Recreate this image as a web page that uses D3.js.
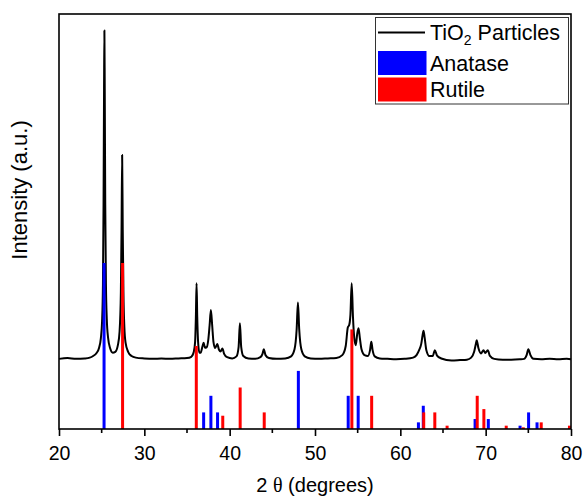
<!DOCTYPE html>
<html>
<head>
<meta charset="utf-8">
<script src="https://cdn.jsdelivr.net/npm/d3@7"></script>
<style>
    body { margin: 0; background: #fff; }
    text { font-family: "Liberation Sans", Arial, sans-serif; fill: #000; }
</style>
</head>
<body>
<svg id="svgXrd" width="584" height="497"></svg>
<script>
// measured TiO2 pattern, [2theta, intensity a.u.]
let tio2Pattern = [
    [20.0, 16.9], [21.0, 17.1], [22.0, 16.9], [23.0, 17.0], [23.6, 17.2], [24.0, 17.6], [24.4, 18.3],
    [24.7, 19.6], [24.9, 21.8], [25.05, 26], [25.15, 35], [25.22, 54], [25.28, 82], [25.32, 96],
    [25.36, 82], [25.42, 54], [25.5, 35], [25.6, 26.5], [25.75, 22], [26.0, 19.4], [26.3, 18.4],
    [26.6, 18.6], [26.9, 20.2], [27.1, 23.5], [27.25, 33], [27.33, 48], [27.4, 66], [27.47, 48],
    [27.55, 33], [27.66, 24.5], [27.8, 20.8], [28.1, 18.6], [28.5, 17.6], [29.0, 17.2], [30.0, 17.0],
    [31.0, 16.9], [32.0, 17.0], [33.0, 16.9], [34.0, 17.0], [35.0, 17.1], [35.5, 17.4], [35.8, 18.6],
    [35.95, 21], [36.04, 27], [36.12, 35.1], [36.2, 27], [36.3, 21], [36.45, 18.4], [36.6, 18.4],
    [36.8, 19.8], [36.95, 20.8], [37.1, 19.6], [37.3, 19.7], [37.5, 21.6], [37.65, 25], [37.8, 28.7],
    [37.95, 25], [38.1, 21], [38.3, 19.5], [38.55, 20.5], [38.75, 19.1], [38.95, 18.7], [39.15, 19.4],
    [39.35, 18.1], [39.7, 17.3], [40.3, 17.0], [40.8, 17.5], [41.05, 19.8], [41.2, 25.5], [41.35, 19.8],
    [41.6, 17.6], [42.2, 17.0], [43.0, 16.9], [43.6, 17.3], [43.85, 18.1], [44.0, 19.2], [44.2, 17.8],
    [44.6, 17.1], [45.5, 16.9], [46.5, 17.0], [47.2, 17.5], [47.6, 19.2], [47.85, 24], [48.0, 30.5],
    [48.15, 24], [48.4, 19.2], [48.8, 17.5], [49.5, 17.0], [50.5, 16.9], [51.5, 17.0], [52.5, 17.1],
    [53.2, 17.8], [53.6, 20], [53.85, 24.5], [54.0, 25], [54.15, 27.5], [54.3, 35.1], [54.45, 27],
    [54.6, 22], [54.78, 20.2], [54.95, 23], [55.1, 24.3], [55.25, 22], [55.45, 19.2], [55.8, 17.8],
    [56.2, 17.6], [56.45, 19], [56.6, 21.0], [56.75, 19], [57.0, 17.5], [57.6, 17.0], [58.5, 16.9],
    [59.5, 16.8], [60.5, 16.9], [61.5, 17.2], [61.9, 17.8], [62.2, 19], [62.45, 20.5], [62.6, 22.5],
    [62.72, 23.7], [62.85, 22], [63.05, 19], [63.4, 17.6], [63.8, 17.6], [64.05, 19.0], [64.3, 17.7],
    [64.8, 17.0], [66.0, 16.5], [67.0, 16.6], [67.8, 16.7], [68.3, 17.2], [68.65, 18.6], [68.85, 20.5],
    [68.95, 21.4], [69.15, 19.5], [69.45, 18.2], [69.75, 19.0], [69.95, 18.3], [70.25, 19.0], [70.5, 17.6],
    [71.0, 16.9], [72.0, 16.7], [73.0, 16.7], [74.0, 16.8], [74.5, 16.9], [74.8, 17.8], [75.0, 19.2],
    [75.25, 17.8], [75.6, 16.9], [76.5, 16.8], [77.5, 16.9], [78.5, 16.8], [79.5, 16.9], [80.0, 16.8]
];

// reference cards (relative intensity %)
let anataseTheta = [25.28, 36.95, 37.80, 38.58, 48.05, 53.89, 55.06, 62.12, 62.69, 68.76, 70.31, 74.03, 75.03, 76.02];
let anataseRel = [100, 10, 20, 10, 35, 20, 20, 4, 14, 6, 6, 2, 10, 4];
let rutileTheta = [27.45, 36.09, 39.19, 41.23, 44.05, 54.32, 56.64, 62.74, 64.04, 65.48, 69.01, 69.79, 72.41, 74.41, 76.51, 79.82];
let rutileRel = [100, 50, 8, 25, 10, 60, 20, 10, 10, 2, 20, 12, 2, 1, 4, 2];

let xTicks = [20, 30, 40, 50, 60, 70, 80];
let xMinorTicks = [25, 35, 45, 55, 65, 75];
let legendLabels = ['Anatase', 'Rutile'];
let legendColors = ['#0000ff', '#ff0000'];

function init() {
    let svg = d3.select('#svgXrd');
    let left = 59, right = 571, top = 14, bottom = 429;

    let x = d3.scaleLinear().domain([20, 80]).range([left, right]);
    let y = d3.scaleLinear().domain([0, 100]).range([bottom, top]);
    // 100% line of the cards reaches 40 on the intensity axis
    let stick = d3.scaleLinear().domain([0, 100]).range([0, 40]);

    // pattern
    svg.append('path')
        .datum(tio2Pattern)
        .attr('d', d3.line().x(d => x(d[0])).y(d => y(d[1])).curve(d3.curveMonotoneX))
        .attr('fill', 'none')
        .attr('stroke', 'black')
        .attr('stroke-width', 2)
        .attr('stroke-linejoin', 'round');

    // sticks, anatase first then rutile on top
    let cards = [
        {theta: anataseTheta, rel: anataseRel, color: legendColors[0]},
        {theta: rutileTheta, rel: rutileRel, color: legendColors[1]}
    ];
    cards.forEach(c => {
        svg.append('g').selectAll('rect').data(c.theta).join('rect')
            .attr('x', d => x(d) - 1.5)
            .attr('y', (d, i) => y(stick(c.rel[i])))
            .attr('width', 3)
            .attr('height', (d, i) => y(0) - y(stick(c.rel[i])))
            .style('fill', c.color);
    });

    // frame
    svg.append('rect')
        .attr('x', left)
        .attr('y', top)
        .attr('width', right - left)
        .attr('height', bottom - top)
        .attr('fill', 'none')
        .attr('stroke', 'black')
        .attr('stroke-width', 1.6);

    // x axis
    let xAxis = svg.append('g').attr('transform', `translate(0, ${bottom})`)
        .call(d3.axisBottom(x).tickValues(xTicks).tickSize(7).tickPadding(10).tickFormat(d3.format('d')));
    xAxis.select('.domain').remove();
    xAxis.selectAll('line').attr('stroke-width', 1.6);
    xAxis.selectAll('text').style('font-size', '19.5px').style('font-family', '"Liberation Sans", Arial, sans-serif');
    svg.append('g').attr('transform', `translate(0, ${bottom})`).selectAll('line').data(xMinorTicks).join('line')
        .attr('x1', d => x(d)).attr('x2', d => x(d))
        .attr('y1', 0).attr('y2', 4)
        .attr('stroke', 'black')
        .attr('stroke-width', 1.6);

    // axis titles
    let xTitle = svg.append('text')
        .attr('x', (left + right) / 2)
        .attr('y', 492)
        .attr('text-anchor', 'middle')
        .style('font-size', '20px');
    xTitle.append('tspan').text('2 ');
    xTitle.append('tspan').style('font-family', '"Liberation Serif", "Times New Roman", serif').text('θ');
    xTitle.append('tspan').text(' (degrees)');

    svg.append('text')
        .attr('transform', 'translate(27, 190) rotate(-90)')
        .attr('text-anchor', 'middle')
        .style('font-size', '22px')
        .text('Intensity (a.u.)');

    // legend
    let lg = svg.append('g');
    lg.append('rect')
        .attr('x', 375.5).attr('y', 17.5)
        .attr('width', 193).attr('height', 86.5)
        .attr('fill', 'white')
        .attr('stroke', '#333')
        .attr('stroke-width', 1);
    lg.append('line')
        .attr('x1', 378).attr('x2', 425)
        .attr('y1', 32.5).attr('y2', 32.5)
        .attr('stroke', 'black')
        .attr('stroke-width', 2);
    let t = lg.append('text').attr('x', 430).attr('y', 39.5).style('font-size', '21.5px');
    t.append('tspan').text('TiO');
    t.append('tspan').attr('dy', 5).style('font-size', '14px').text('2');
    t.append('tspan').attr('dy', -5).text(' Particles');

    lg.selectAll('rect.sw').data(legendLabels).join('rect')
        .attr('class', 'sw')
        .attr('x', 378)
        .attr('y', (d, i) => 51 + i * 26.5)
        .attr('width', 48.5)
        .attr('height', 24)
        .style('fill', (d, i) => legendColors[i]);
    lg.selectAll('text.lb').data(legendLabels).join('text')
        .attr('class', 'lb')
        .attr('x', 430)
        .attr('y', (d, i) => 70.5 + i * 26.5)
        .style('font-size', '21.5px')
        .text(d => d);
}

init();
</script>
</body>
</html>
